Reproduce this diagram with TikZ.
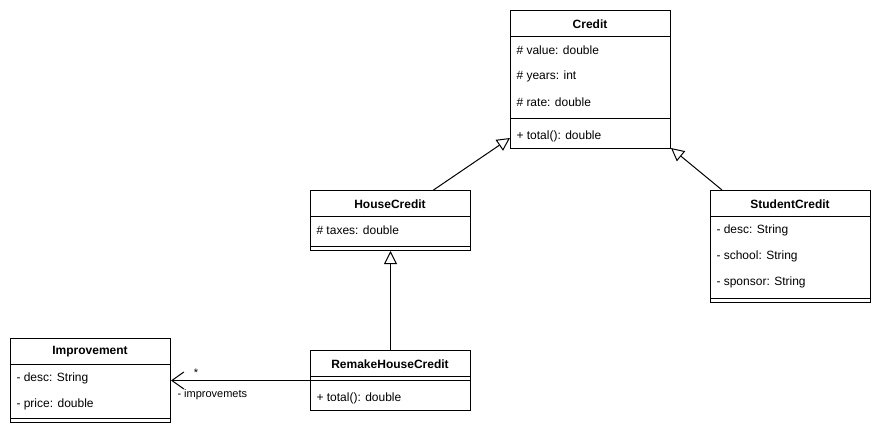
\documentclass[tikz,border=0pt]{standalone}
\usepackage{fontspec}
\setmainfont{Liberation Sans}
\usetikzlibrary{arrows.meta}

\begin{document}
\begin{tikzpicture}[x=1pt,y=-1pt,line width=1pt,
    cls/.style={draw,anchor=north west,minimum width=160pt,inner sep=0pt},
    ttl/.style={font=\fontsize{12}{14}\selectfont\bfseries,inner sep=0pt},
    attr/.style={font=\fontsize{12}{14}\selectfont,anchor=west,inner sep=0pt},
    lbl/.style={font=\fontsize{11}{13}\selectfont,inner sep=0pt},
    inherit/.style={-{Triangle[open,fill=white,length=13pt,width=13pt]}},
    assoc/.style={-{Straight Barb[length=12pt,width=17pt]}}]
        \useasboundingbox (0,0) rectangle (881,434);
        % classes
        \node[cls,minimum height=138pt] (credit) at (510,10) {};
        \node[ttl] at (590,24) {Credit};
        \draw (510,36) -- (670,36);
        \node[attr] at (516,50) {\# value: double};
        \node[attr] at (516,76) {\# years: int};
        \node[attr] at (516,102) {\# rate: double};
        \draw (510,118) -- (670,118);
        \node[attr] at (516,136) {+ total(): double};

        \node[cls,minimum height=60pt] (house) at (310,190) {};
        \node[ttl] at (390,204) {HouseCredit};
        \draw (310,216) -- (470,216);
        \node[attr] at (316,230) {\# taxes: double};
        \draw (310,246) -- (470,246);

        \node[cls,minimum height=112pt] (student) at (710,190) {};
        \node[ttl] at (790,204) {StudentCredit};
        \draw (710,216) -- (870,216);
        \node[attr] at (716,230) {- desc: String};
        \node[attr] at (716,256) {- school: String};
        \node[attr] at (716,282) {- sponsor: String};
        \draw (710,298) -- (870,298);

        \node[cls,minimum height=84pt] (improvement) at (10,338) {};
        \node[ttl] at (90,352) {Improvement};
        \draw (10,364) -- (170,364);
        \node[attr] at (16,378) {- desc: String};
        \node[attr] at (16,404) {- price: double};
        \draw (10,418) -- (170,418);

        \node[cls,minimum height=60pt] (remake) at (310,350) {};
        \node[ttl] at (390,364) {RemakeHouseCredit};
        \draw (310,376) -- (470,376);
        \draw (310,380) -- (470,380);
        \node[attr] at (316,398) {+ total(): double};

        % relations
        \draw[inherit] ([xshift=43pt]house.north) -- ([yshift=11pt]credit.south west);
        \draw[inherit] ([xshift=12pt]student.north west) -- ([yshift=1pt]credit.south east);
        \draw[inherit] (remake.north) -- (house.south);
        \draw[assoc] (remake.west) -- (improvement.east);
        \node[lbl] (mult) at (196,373) {*};
        \node[lbl,anchor=west] (role) at (177,395) {- improvemets};
\end{tikzpicture}
\end{document}
